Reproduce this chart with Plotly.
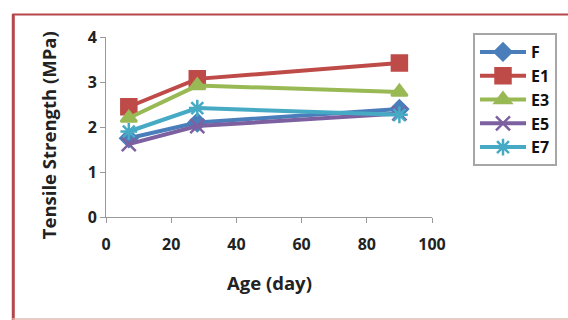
import plotly.graph_objects as go

# Tensile strength of the mixes over curing age
age_days = [7, 28, 90]
series_names = ["F", "E1", "E3", "E5", "E7"]
strength_F = [1.75, 2.10, 2.40]
strength_E1 = [2.45, 3.07, 3.42]
strength_E3 = [2.20, 2.92, 2.78]
strength_E5 = [1.62, 2.02, 2.30]
strength_E7 = [1.90, 2.42, 2.27]

x_ticks = [0, 20, 40, 60, 80, 100]
y_ticks = [0, 1, 2, 3, 4]

values = [strength_F, strength_E1, strength_E3, strength_E5, strength_E7]
colors = ["#4A7EBB", "#BE4B48", "#98B954", "#7D60A0", "#46AAC5"]
symbols = ["diamond", "square", "triangle-up", "x-thin-open", "asterisk-open"]
sizes = [13, 15, 14, 14, 14]

fig = go.Figure()
for name, vals, col, sym, sz in zip(series_names, values, colors, symbols, sizes):
    fig.add_trace(go.Scatter(
        x=age_days, y=vals, name=name, mode="lines+markers",
        line=dict(color=col, width=4),
        marker=dict(symbol=sym, size=sz, color=col,
                    line=dict(color=col, width=2.5)),
    ))

# plot area geometry in pixels
L, R, T, B = 106, 433, 37, 217
W, H = 568, 320

def px_x(p):
    return (p - L) / (R - L)

def px_y(p):
    return (B - p) / (B - T)

# dark red frame around the chart
fig.add_shape(type="line", xref="paper", yref="paper",
              x0=px_x(13), x1=px_x(13), y0=px_y(14), y1=px_y(320),
              line=dict(color="#B5474A", width=3))
fig.add_shape(type="line", xref="paper", yref="paper",
              x0=px_x(12), x1=px_x(570), y0=px_y(14.5), y1=px_y(14.5),
              line=dict(color="#B5474A", width=2))
fig.add_shape(type="line", xref="paper", yref="paper",
              x0=px_x(12), x1=px_x(570), y0=px_y(319), y1=px_y(319),
              line=dict(color="#E3B8B0", width=1.5))

title_font = dict(family="Open Sans", size=18.5, color="#222222", weight="bold")
tick_font = dict(family="Open Sans", size=16, color="#222222", weight="bold")

# axis titles
fig.add_annotation(text="Age (day)", xref="paper", yref="paper",
                   x=px_x(270), y=px_y(282), showarrow=False,
                   xanchor="center", yanchor="middle", font=title_font)
fig.add_annotation(text="Tensile Strength (MPa)", xref="paper", yref="paper",
                   x=px_x(48), y=px_y(135), showarrow=False, textangle=-90,
                   xanchor="center", yanchor="middle", font=title_font)

fig.update_layout(
    width=W, height=H,
    margin=dict(l=L, r=W - R, t=T, b=H - B),
    paper_bgcolor="white", plot_bgcolor="white",
    showlegend=True,
    legend=dict(
        x=px_x(473), y=px_y(33), xanchor="left", yanchor="top",
        bordercolor="#A6A6A6", borderwidth=2,
        font=dict(family="Open Sans", size=16, color="#111111", weight="bold"),
        itemwidth=46, tracegroupgap=0,
    ),
    xaxis=dict(
        range=[0, 100], tickvals=x_ticks, ticks="outside", ticklen=5,
        tickcolor="#999999", showline=True, linecolor="#999999", linewidth=1,
        showgrid=False, zeroline=False, tickfont=tick_font,
        ticklabelstandoff=8,
    ),
    yaxis=dict(
        range=[0, 4], tickvals=y_ticks, ticks="outside", ticklen=5,
        tickcolor="#999999", showline=True, linecolor="#999999", linewidth=1,
        showgrid=False, zeroline=False, tickfont=tick_font,
    ),
)

fig.write_html("out.html")
